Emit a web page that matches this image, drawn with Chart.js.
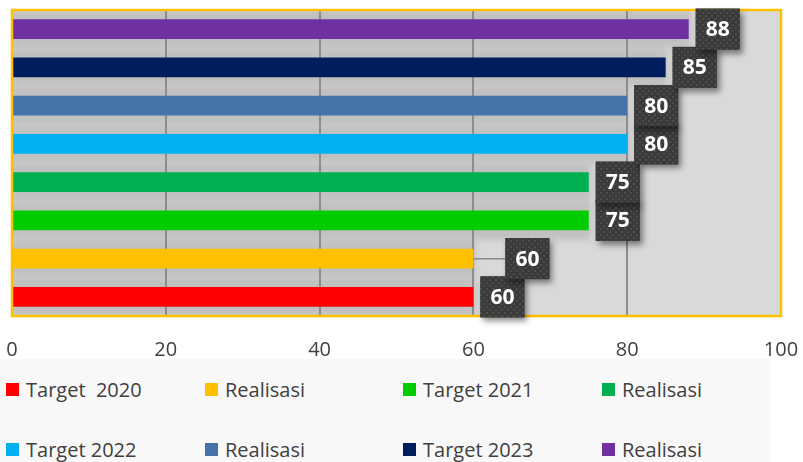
<!DOCTYPE html>
<html>
<head>
<meta charset="utf-8">
<script src="https://cdn.jsdelivr.net/npm/chart.js@4.4.1/dist/chart.umd.min.js"></script>
<style>
html, body { margin: 0; padding: 0; background: #fff; }
#wrap { position: relative; width: 803px; height: 462px; overflow: hidden; }
#legend { position: absolute; left: 0; top: 359px; width: 770px; height: 103px; background: #f8f8f8;
  font-family: 'Open Sans', sans-serif; font-size: 20px; color: #404040; }
.item { position: absolute; display: flex; align-items: center; height: 26px; white-space: pre; }
.item i { display: inline-block; width: 13px; height: 13px; margin-right: 7px; }
</style>
</head>
<body>
<div id="wrap">
  <canvas id="chart_targetRealisasi" width="803" height="462"></canvas>
  <div id="legend"></div>
</div>
<script>
// categories, bottom to top
var categories = ['Target 2020', 'Realisasi 2020', 'Target 2021', 'Realisasi 2021',
                  'Target 2022', 'Realisasi 2022', 'Target 2023', 'Realisasi 2023'];
var seriesLabels = ['Target  2020', 'Realisasi', 'Target 2021', 'Realisasi',
                    'Target 2022', 'Realisasi', 'Target 2023', 'Realisasi'];
var values = [60, 60, 75, 75, 80, 80, 85, 88];
var colors = ['#FF0000', '#FFC000', '#00CC00', '#00AF50', '#00B0F0', '#4674AA', '#001E5E', '#7030A0'];
var xTicks = [0, 20, 40, 60, 80, 100];

// dotted dark fill for the value boxes
var tile = document.createElement('canvas');
tile.width = 6; tile.height = 6;
var tctx = tile.getContext('2d');
tctx.fillStyle = '#3a3a3a';
tctx.fillRect(0, 0, 6, 6);
tctx.fillStyle = '#4c4c4c';
tctx.fillRect(0, 0, 2, 2);
tctx.fillRect(3, 3, 2, 2);

var datasets = seriesLabels.map(function (name, i) {
    return {
        label: name,
        data: categories.map(function (c, j) { return j === i ? values[i] : null; }),
        backgroundColor: colors[i],
        borderWidth: 0,
        barPercentage: 0.52,
        categoryPercentage: 1,
        labelShift: i === 1 ? 25 : 0
    };
});

var chart_targetRealisasi = new Chart(document.getElementById('chart_targetRealisasi'), {
    type: 'bar',
    data: {
        labels: categories,
        datasets: datasets
    },
    options: {
        animation: false,
        responsive: false,
        indexAxis: 'y',
        layout: {
            padding: { left: 12, right: 22, top: 10, bottom: 100 }
        },
        plugins: {
            legend: { display: false },
            tooltip: { enabled: false }
        },
        scales: {
            x: {
                min: 0,
                max: 100,
                stacked: true,
                afterBuildTicks: function (scale) {
                    scale.ticks = xTicks.map(function (v) { return { value: v }; });
                },
                ticks: {
                    padding: 0,
                    color: '#404040',
                    font: { family: 'Open Sans', size: 20 }
                },
                grid: { color: '#8c8c8c', lineWidth: 2, drawTicks: true, tickLength: 22, tickColor: 'rgba(0,0,0,0)' },
                border: { display: false }
            },
            y: {
                stacked: true,
                reverse: true,
                display: false
            }
        }
    },
    plugins: [{
        id: 'plotBackground',
        beforeDraw: function (chart) {
            var ctx = chart.ctx, a = chart.chartArea;
            var catH = (a.bottom - a.top) / categories.length;
            ctx.save();
            ctx.fillStyle = '#d9d9d9';
            ctx.fillRect(a.left, a.top, a.right - a.left, a.bottom - a.top);
            ctx.beginPath();
            ctx.rect(a.left, a.top, a.right - a.left, a.bottom - a.top);
            ctx.clip();
            ctx.filter = 'blur(3px)';
            ctx.fillStyle = '#c0c0c0';
            chart.data.datasets.forEach(function (ds, i) {
                chart.getDatasetMeta(i).data.forEach(function (bar, j) {
                    if (ds.data[j] === null) return;
                    ctx.fillRect(a.left - 10, bar.y - catH / 2, bar.x - a.left + 12, catH);
                });
            });
            ctx.restore();
        }
    }, {
        id: 'valueBoxes',
        afterDatasetsDraw: function (chart) {
            var ctx = chart.ctx, a = chart.chartArea;
            ctx.save();
            ctx.strokeStyle = '#FFC000';
            ctx.lineWidth = 2.5;
            ctx.strokeRect(a.left, a.top, a.right - a.left, a.bottom - a.top);
            ctx.restore();

            var pattern = ctx.createPattern(tile, 'repeat');
            chart.data.datasets.forEach(function (ds, i) {
                chart.getDatasetMeta(i).data.forEach(function (bar, j) {
                    if (ds.data[j] === null) return;
                    var bx = bar.x + 7 + ds.labelShift, w = 44, h = 41;
                    var by = bar.y - h / 2;
                    ctx.save();
                    if (ds.labelShift) {
                        ctx.strokeStyle = '#8c8c8c';
                        ctx.lineWidth = 1.5;
                        ctx.beginPath();
                        ctx.moveTo(bar.x, bar.y);
                        ctx.lineTo(bx, bar.y);
                        ctx.stroke();
                    }
                    ctx.shadowColor = 'rgba(0,0,0,0.45)';
                    ctx.shadowBlur = 6;
                    ctx.shadowOffsetX = 3;
                    ctx.shadowOffsetY = 4;
                    ctx.fillStyle = '#3a3a3a';
                    ctx.fillRect(bx, by, w, h);
                    ctx.shadowColor = 'transparent';
                    ctx.fillStyle = pattern;
                    ctx.fillRect(bx, by, w, h);
                    ctx.fillStyle = '#ffffff';
                    ctx.font = 'bold 21px "Open Sans"';
                    ctx.textAlign = 'center';
                    ctx.textBaseline = 'middle';
                    ctx.fillText(String(ds.data[j]), bx + w / 2, bar.y + 1);
                    ctx.restore();
                });
            });
        }
    }]
});

// legend, four columns by two rows
var legend = document.getElementById('legend');
var legendCols = [6, 205, 403, 602];
seriesLabels.forEach(function (name, i) {
    var item = document.createElement('div');
    item.className = 'item';
    item.style.left = legendCols[i % 4] + 'px';
    item.style.top = (17 + Math.floor(i / 4) * 60) + 'px';
    var box = document.createElement('i');
    box.style.background = colors[i];
    item.appendChild(box);
    item.appendChild(document.createTextNode(name));
    legend.appendChild(item);
});
</script>
</body>
</html>
